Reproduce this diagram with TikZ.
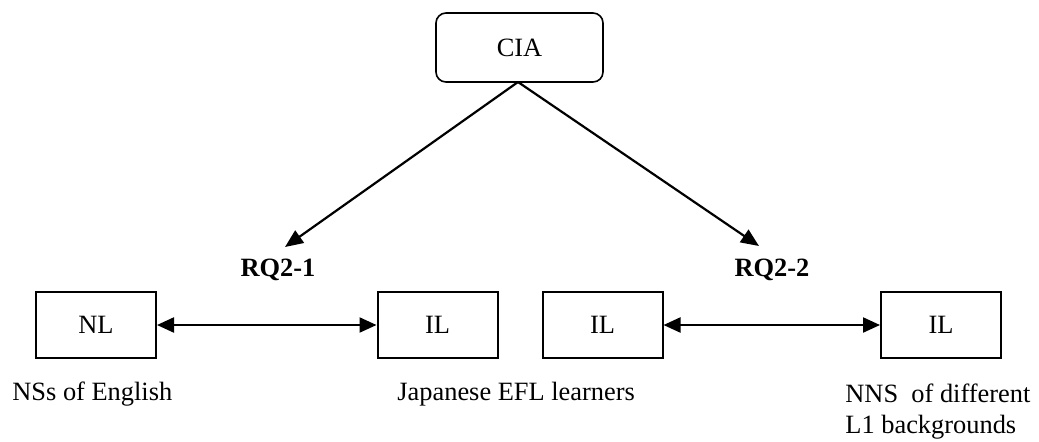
\documentclass[tikz,border=0pt]{standalone}
\usepackage{fontspec}
\setmainfont{Liberation Serif}
\usetikzlibrary{arrows.meta}
\begin{document}
\begin{tikzpicture}[x=0.5pt,y=-0.5pt,
  every node/.style={font=\fontsize{13.2}{15.5}\selectfont},
  box/.style={draw,line width=1pt,minimum width=60pt,minimum height=33pt,inner sep=0pt},
  topbox/.style={draw,line width=0.8pt,rounded corners=5pt,minimum width=83.5pt,minimum height=34.5pt,inner sep=0pt},
  link/.style={line width=1.1pt,-{Triangle[length=9pt,width=7.5pt]}},
  bilink/.style={line width=1.1pt,{Triangle[length=8.5pt,width=7.5pt]}-{Triangle[length=8.5pt,width=7.5pt]}},
  caption/.style={inner sep=0pt,anchor=west}]
\useasboundingbox (0,0) rectangle (1039,441);
% top node
\node[topbox] (cia) at (519.5,47.5) {CIA};
\coordinate (ciab) at (518,82);
\coordinate (tip1) at (285,247);
\coordinate (tip2) at (759,246);
\draw[link] (ciab) -- (tip1);
\draw[link] (ciab) -- (tip2);
% research question labels
\node[font=\fontsize{13.2}{15.5}\selectfont\bfseries] (rq1) at (278,270) {RQ2-1};
\node[font=\fontsize{13.2}{15.5}\selectfont\bfseries] (rq2) at (772,270) {RQ2-2};
% language boxes
\node[box] (nl) at (96,325) {NL};
\node[box] (il1) at (437.5,325) {IL};
\node[box] (il2) at (602.5,325) {IL};
\node[box] (il3) at (941,325) {IL};
\draw[bilink] (nl) -- (il1);
\draw[bilink] (il2) -- (il3);
% group captions
\node[caption] (c1) at (12,394) {NSs of English};
\node[caption] (c2) at (397,394) {Japanese EFL learners};
\node[caption,align=left,anchor=north west] (c3) at (845,383) {NNS\ \ of different\\L1 backgrounds};
\end{tikzpicture}
\end{document}
